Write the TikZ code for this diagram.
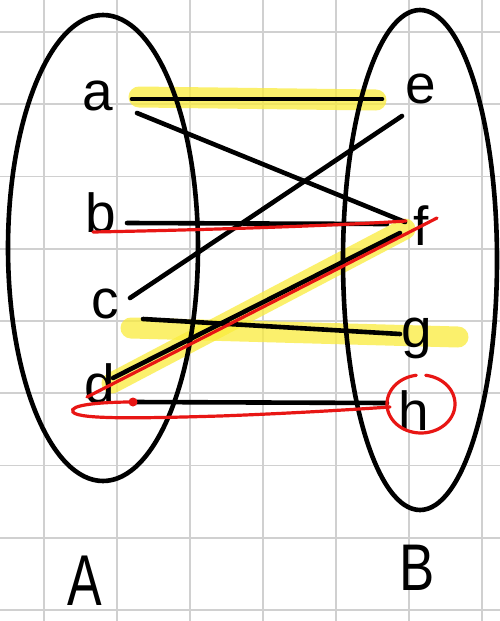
\documentclass[tikz,border=0pt]{standalone}
\usepackage{fontspec}
\setmainfont{Liberation Sans}
\usetikzlibrary{shapes.geometric}
\definecolor{gridgray}{RGB}{208,208,208}
\definecolor{penred}{RGB}{232,22,20}
\definecolor{hlyellow}{RGB}{250,236,60}
\begin{document}
\begin{tikzpicture}[x=1pt,y=-1pt,
  gridln/.style={draw=gridgray, line width=1.8},
  blk/.style={draw=black, line width=4.6, line cap=round},
  redln/.style={draw=penred, line width=3.2, line cap=round},
  hl/.style={draw=hlyellow, line width=21, line cap=round, opacity=0.75},
  letter/.style={font=\fontsize{55}{60}\selectfont, inner sep=0, anchor=base},
  bigletter/.style={font=\fontsize{66}{70}\selectfont, inner sep=0, anchor=base},
  setshape/.style={draw=black, line width=4.6, ellipse, inner sep=0, outer sep=0}]
\fill[white] (0,0) rectangle (500,621);
\useasboundingbox (0,0) rectangle (500,621);
% grid
\foreach \gx in {44,117,190,263,336,409,482} {\draw[gridln] (\gx,0) -- (\gx,621);}
\foreach \gy in {32,104.25,176.5,248.75,321,393.25,465.5,537.75,610} {\draw[gridln] (0,\gy) -- (500,\gy);}
% highlights
\coordinate (hae1) at (139,97);
\coordinate (hae2) at (376,100);
\coordinate (hdf1) at (112,383);
\coordinate (hdf2) at (405,229);
\coordinate (hcg1) at (131,328);
\coordinate (hcg2) at (458,337);
\draw[hl] (hae1) -- (hae2);
\draw[hl] (hdf1) -- (hdf2);
\draw[hl] (hcg1) -- (hcg2);
% sets
\node (setA) [setshape, minimum width=190, minimum height=466] at (103,248) {};
\node (setB) [setshape, minimum width=154, minimum height=500] at (420,260) {};
% letters
\node (a) [letter] at (98,110) {a};
\node (b) [letter] at (101,232) {b};
\node (c) [letter] at (105,318) {c};
\node (d) [letter] at (100,403) {d};
\node (e) [letter] at (421,103) {e};
\node (f) [letter] at (421,245) {f};
\node (g) [letter] at (417,347) {g};
\node (h) [letter] at (414,430) {h};
\node (A) [font=\fontsize{72}{76}\selectfont, inner sep=0, anchor=base, xscale=0.72] at (85,605) {A};
\node (B) [bigletter, xscale=0.8] at (417,590) {B};
% connector ends
\coordinate (ae1) at (132,99);  \coordinate (ae2) at (382,99);
\coordinate (af1) at (137,113); \coordinate (af2) at (405,222);
\coordinate (ec1) at (402,116); \coordinate (ec2) at (130,298);
\coordinate (bf1) at (127,223); \coordinate (bf2) at (387,224);
\coordinate (df1) at (113,378); \coordinate (df2) at (400,233);
\coordinate (cg1) at (143,319); \coordinate (cg2) at (400,334);
\coordinate (dh1) at (133,402); \coordinate (dh2) at (387,403);
\draw[blk] (ae1) -- (ae2);
\draw[blk] (af1) -- (af2);
\draw[blk] (ec1) -- (ec2);
\draw[blk] (bf1) -- (bf2);
\draw[blk] (df1) -- (df2);
\draw[blk] (cg1) -- (cg2);
\draw[blk] (dh1) -- (dh2);
% red marks
\coordinate (rbf1) at (93,232);
\coordinate (rbf2) at (406,221);
\coordinate (rdf1) at (87,397);
\coordinate (rdf2) at (437,218);
\coordinate (rdh1) at (133,402);
\coordinate (rdh2) at (390,407);
\draw[redln] (rbf1) .. controls (200,230) and (330,226) .. (rbf2);
\draw[redln] (rdf1) -- (rdf2);
\fill[penred] (rdh1) circle (4.5);
\draw[redln] (rdh1) .. controls (100,402) and (68,405) .. (73,412)
  .. controls (78,420) and (150,418) .. (220,416)
  .. controls (300,413) and (360,409) .. (rdh2);
\draw[redln] plot[domain=278:622, samples=90, smooth] ({421+34*cos(\x)}, {404+29*sin(\x)});
\end{tikzpicture}
\end{document}
